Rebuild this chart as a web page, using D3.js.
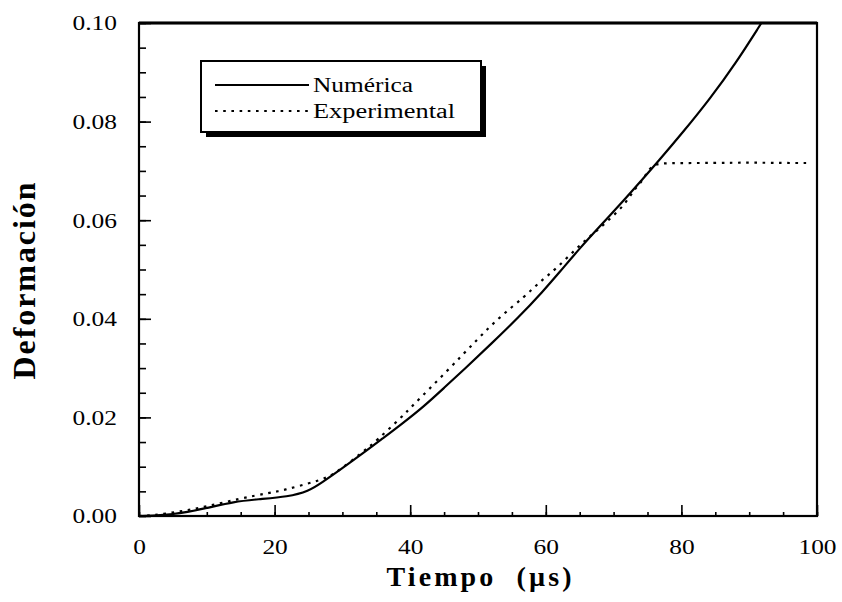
<!DOCTYPE html>
<html>
<head>
<meta charset="utf-8">
<script src="https://cdn.jsdelivr.net/npm/d3@7"></script>
<style>
  html, body { margin: 0; padding: 0; background: #fff; }
  svg { display: block; }
</style>
</head>
<body>
<svg id="chart" width="842" height="602"></svg>
<script>
// ---- data ----
const numTime = [0, 5, 10, 14, 17.5, 22, 25, 27, 29.6, 33.6, 36, 38.5, 42, 45, 48, 52, 56, 59.6, 62, 65, 68, 71.7, 74, 76.5, 80.2, 84.2, 88, 91.8];
const numVals = [0, 0.0002, 0.0016, 0.0029, 0.0034, 0.0039, 0.0050, 0.0068, 0.0093, 0.0133, 0.0158, 0.0184, 0.0222, 0.0260, 0.0298, 0.0350, 0.0403, 0.0456, 0.0494, 0.0543, 0.0588, 0.0643, 0.0679, 0.0718, 0.0778, 0.0846, 0.0918, 0.1000];

const expTime = [0, 2, 6, 10, 15, 19, 21.5, 25, 27.7, 29.6, 33, 35, 38.9, 40, 45.6, 49.8, 53.2, 56.9, 59.1, 61.6, 65, 68, 71.7, 72.9, 74.4, 75.5, 78, 85, 90, 95, 98.7];
const expVals = [0, 0.0001, 0.0009, 0.0019, 0.0036, 0.0046, 0.0053, 0.0066, 0.0077, 0.0093, 0.0130, 0.0152, 0.0203, 0.0219, 0.0296, 0.0357, 0.0404, 0.0445, 0.0475, 0.0502, 0.0550, 0.0584, 0.0631, 0.0661, 0.0681, 0.0714, 0.0716, 0.0716, 0.0717, 0.0716, 0.0716];

const xMajorTicks = [0, 20, 40, 60, 80, 100];
const yMajorTicks = [0, 0.02, 0.04, 0.06, 0.08, 0.10];
const seriesNames = ["Numérica", "Experimental"];
const xTitle = "Tiempo\u00a0\u00a0(µs)";
const yTitle = "Deformación";

// ---- layout ----
const L = 139, R = 817, T = 23, B = 516;
const font = "'Liberation Serif', 'Times New Roman', serif";

const svg = d3.select("#chart");
const x = d3.scaleLinear().domain([0, 100]).range([L, R]);
const y = d3.scaleLinear().domain([0, 0.10]).range([B, T]);

// minor ticks
svg.append("g").attr("transform", `translate(0,${B})`)
  .call(d3.axisBottom(x).tickValues(d3.range(0, 101, 5)).tickSize(-4).tickFormat(""))
  .call(g => g.select(".domain").remove())
  .call(g => g.selectAll("line").attr("stroke", "#000").attr("stroke-width", 1.6));
svg.append("g").attr("transform", `translate(${L},0)`)
  .call(d3.axisLeft(y).tickValues(d3.range(0, 0.1001, 0.005)).tickSize(-7).tickFormat(""))
  .call(g => g.select(".domain").remove())
  .call(g => g.selectAll("line").attr("stroke", "#000").attr("stroke-width", 1.6));

// major ticks + labels
const sx = 1.27;
svg.append("g").attr("transform", `translate(0,${B})`)
  .call(d3.axisBottom(x).tickValues(xMajorTicks).tickSize(-11).tickFormat(d3.format("d")))
  .call(g => g.select(".domain").remove())
  .call(g => g.selectAll("line").attr("stroke", "#000").attr("stroke-width", 1.6))
  .call(g => g.selectAll("text")
    .attr("y", 38).attr("dy", 0)
    .attr("transform", `scale(${sx},1)`)
    .attr("fill", "#000")
    .style("font-family", font).style("font-size", "20px"));
svg.append("g").attr("transform", `translate(${L},0)`)
  .call(d3.axisLeft(y).tickValues(yMajorTicks).tickSize(-12).tickFormat(d3.format(".2f")))
  .call(g => g.select(".domain").remove())
  .call(g => g.selectAll("line").attr("stroke", "#000").attr("stroke-width", 1.6))
  .call(g => g.selectAll("text")
    .attr("x", -22 / sx).attr("dy", "0.34em")
    .attr("transform", `scale(${sx},1)`)
    .attr("fill", "#000")
    .style("font-family", font).style("font-size", "20px"));

// frame
svg.append("rect").attr("x", L).attr("y", T).attr("width", R - L).attr("height", B - T)
  .attr("fill", "none").attr("stroke", "#000").attr("stroke-width", 2.2);
svg.append("line").attr("x1", L).attr("x2", R).attr("y1", T).attr("y2", T)
  .attr("stroke", "#000").attr("stroke-width", 3);

// lines
const line = d3.line().x(d => x(d[0])).y(d => y(d[1])).curve(d3.curveBasis);
const numData = numTime.map((t, i) => [t, numVals[i]]);
const expData = expTime.map((t, i) => [t, expVals[i]]);

svg.append("path").datum(expData).attr("d", line)
  .attr("fill", "none").attr("stroke", "#000").attr("stroke-width", 2.2)
  .attr("stroke-dasharray", "2.6,5.6");
svg.append("path").datum(numData).attr("d", line)
  .attr("fill", "none").attr("stroke", "#000").attr("stroke-width", 2.2);

// axis titles
svg.append("text").attr("x", (L + R) / 2 + 1).attr("y", 586)
  .attr("text-anchor", "middle")
  .attr("textLength", 185).attr("lengthAdjust", "spacing")
  .style("font-family", font).style("font-size", "28px").style("font-weight", "bold")
  .text(xTitle);
svg.append("text").attr("transform", "translate(35,281) rotate(-90)")
  .attr("text-anchor", "middle")
  .attr("textLength", 197).attr("lengthAdjust", "spacing")
  .style("font-family", font).style("font-size", "32px").style("font-weight", "bold")
  .text(yTitle);

// legend
const lg = svg.append("g");
lg.append("rect").attr("x", 206).attr("y", 66).attr("width", 280).attr("height", 71).attr("fill", "#000");
lg.append("rect").attr("x", 201).attr("y", 61).attr("width", 280).attr("height", 71)
  .attr("fill", "#fff").attr("stroke", "#000").attr("stroke-width", 2);
const legendRows = [
  { name: seriesNames[0], y: 85, dash: null, len: 100 },
  { name: seriesNames[1], y: 111, dash: "2.6,5.6", len: 142 }
];
legendRows.forEach(r => {
  lg.append("line").attr("x1", 215).attr("x2", 309).attr("y1", r.y).attr("y2", r.y)
    .attr("stroke", "#000").attr("stroke-width", 2)
    .attr("stroke-dasharray", r.dash);
  lg.append("text").attr("x", 313).attr("y", r.y + 7)
    .attr("textLength", r.len).attr("lengthAdjust", "spacingAndGlyphs")
    .style("font-family", font).style("font-size", "20px")
    .text(r.name);
});
</script>
</body>
</html>
